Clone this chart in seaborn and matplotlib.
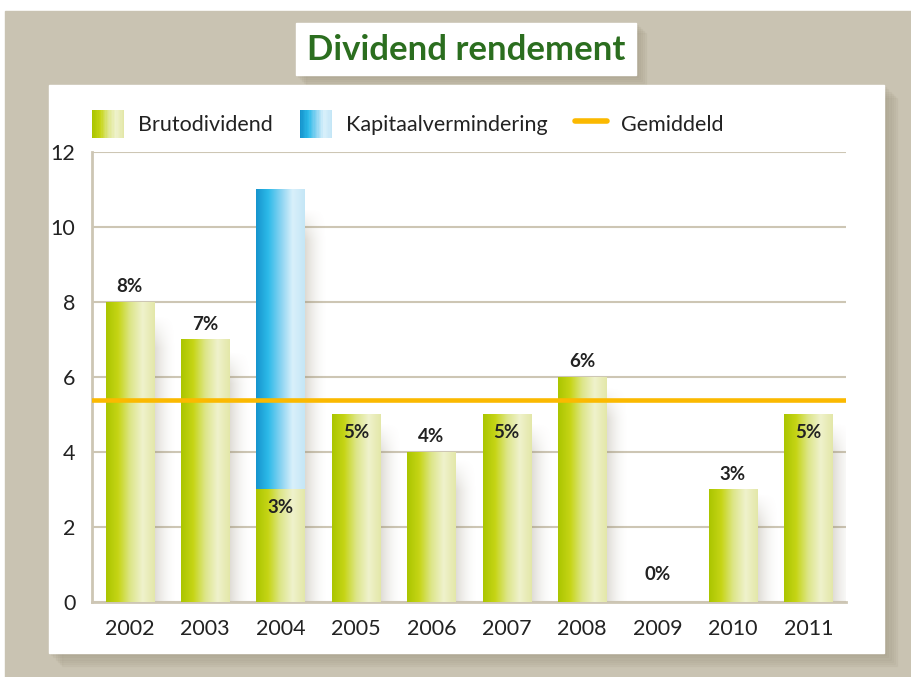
import numpy as np
import matplotlib
matplotlib.use("Agg")
import matplotlib.pyplot as plt
import seaborn as sns
from matplotlib.colors import LinearSegmentedColormap
from matplotlib.patches import Rectangle, Patch
from matplotlib.lines import Line2D
from matplotlib.legend_handler import HandlerPatch

# Gegevens
years = ['2002', '2003', '2004', '2005', '2006', '2007', '2008', '2009', '2010', '2011']
bruto = [8, 7, 3, 5, 4, 5, 6, 0, 3, 5]
kapitaal = [0, 0, 8, 0, 0, 0, 0, 0, 0, 0]
pct_labels = ['8%', '7%', '3%', '5%', '4%', '5%', '6%', '0%', '3%', '5%']
label_pos = ['above', 'above', 'inside', 'inside', 'above', 'inside', 'above', 'raised', 'above', 'inside']
gemiddeld = 5.4

totals = [b + k for b, k in zip(bruto, kapitaal)]

# Stijl
sns.set_style("white")
plt.rcParams['font.family'] = ['Lato', 'DejaVu Sans']

green_cmap = LinearSegmentedColormap.from_list(
    'groen', ['#aac500', '#c6d516', '#dde68a', '#eff2cc', '#e3e7a8'])
blue_cmap = LinearSegmentedColormap.from_list(
    'blauw', ['#1694cd', '#2dbae9', '#86d2f1', '#d9f0fb', '#c4e6f6'])
grid_col = '#cdc6b4'
orange = '#fbb900'
text_col = '#222222'

fig = plt.figure(figsize=(9.11, 6.77), dpi=100)
fig.patch.set_facecolor('white')

# Achtergrond, paneel en schaduwen
fig.add_artist(Rectangle((5 / 911, 0), 1, 1 - 11 / 677, transform=fig.transFigure,
                         color='#c9c3b2', zorder=-10))
for k in range(6):
    d = (k + 1) * 2.2
    fig.add_artist(Rectangle(((49 + d) / 911, 1 - (653 + d) / 677), 835 / 911, 568 / 677,
                             transform=fig.transFigure, color='#8f866e', alpha=0.07, zorder=-9))
fig.add_artist(Rectangle((49 / 911, 1 - 653 / 677), 835 / 911, 568 / 677,
                         transform=fig.transFigure, color='white', zorder=-8))

for k in range(5):
    d = (k + 1) * 2
    fig.add_artist(Rectangle(((296 + d) / 911, 1 - (75 + d) / 677), 340 / 911, 52 / 677,
                             transform=fig.transFigure, color='#8f866e', alpha=0.08, zorder=-9))
fig.add_artist(Rectangle((296 / 911, 1 - 75 / 677), 340 / 911, 52 / 677,
                         transform=fig.transFigure, color='white', zorder=-8))
fig.text(466 / 911, 1 - 50 / 677, 'Dividend rendement', ha='center', va='center',
         fontsize=25, fontweight='bold', color='#2b6e1f')

ax = fig.add_axes([92 / 911, 1 - 602 / 677, 754 / 911, 450 / 677])
ax.set_facecolor('white')

sns.barplot(x=years, y=totals, color=blue_cmap(0.4), width=0.64, saturation=1, ax=ax, zorder=3)
sns.barplot(x=years, y=bruto, color=green_cmap(0.4), width=0.64, saturation=1, ax=ax, zorder=4)

# Verloop op de staven + zachte schaduw rechts
grad = np.linspace(0, 1, 256).reshape(1, -1)
hx = np.linspace(0, 1, 64)
vy = np.linspace(0, 1, 64).reshape(-1, 1)
n = len(years)
for idx, p in enumerate(ax.patches):
    x0, y0, w, h = p.get_x(), p.get_y(), p.get_width(), p.get_height()
    p.set_edgecolor('none')
    p.set_linewidth(0)
    if h <= 0:
        continue
    cmap = blue_cmap if idx < n else green_cmap
    z = 3 if idx < n else 4
    ax.imshow(grad, cmap=cmap, extent=(x0, x0 + w, y0, y0 + h), aspect='auto',
              zorder=z + 0.5, interpolation='bilinear')
    if idx < n:
        # zachte schaduw: vervaagt naar rechts en naar de bovenkant
        top_fade = np.clip(vy * h / 0.9, 0, 1)  # rij 0 = bovenkant
        shade = np.zeros((64, 64, 4))
        shade[..., :3] = (0.52, 0.48, 0.38)
        shade[..., 3] = 0.28 * (1 - hx) ** 1.8 * top_fade
        ax.imshow(shade, extent=(x0 + w, x0 + w + 0.3, y0, y0 + h * 0.96), aspect='auto',
                  zorder=2, interpolation='bilinear')

ax.axhline(gemiddeld, color=orange, lw=3.3, zorder=6)

# Labels
offsets = {'above': (5, 'bottom'), 'inside': (-7, 'top'), 'raised': (14, 'bottom')}
for i, (v, t, pos) in enumerate(zip(bruto, pct_labels, label_pos)):
    off, va = offsets[pos]
    ax.annotate(t, (i, v), xytext=(0, off), textcoords='offset points', ha='center', va=va,
                fontsize=13.5, fontweight='bold', color=text_col, zorder=7)

# Assen
ax.set_xlim(-0.5, n - 0.5)
ax.set_ylim(0, 12)
ax.set_yticks(range(0, 13, 2))
ax.set_xticks(range(n))
ax.set_xticklabels(years)
ax.set_xticks(np.arange(-0.5, n, 1), minor=True)
ax.tick_params(axis='x', which='major', length=0, pad=12, labelsize=15.5, labelcolor=text_col)
ax.tick_params(axis='x', which='minor', direction='in', length=8, width=1.2, color=grid_col)
ax.tick_params(axis='y', length=0, pad=12, labelsize=15.5, labelcolor=text_col)
ax.yaxis.grid(True, color=grid_col, lw=1.5)
ax.set_axisbelow(True)
ax.set_xlabel('')
ax.set_ylabel('')
for s in ['top', 'right']:
    ax.spines[s].set_visible(False)
for s in ['left', 'bottom']:
    ax.spines[s].set_color(grid_col)
    ax.spines[s].set_linewidth(2)


# Legenda met verloop
class GradientHandler(HandlerPatch):
    def __init__(self, cmap):
        super().__init__()
        self.cmap = cmap

    def create_artists(self, legend, orig_handle, xdescent, ydescent, width, height, fontsize, trans):
        steps = 24
        arts = []
        for k in range(steps):
            arts.append(Rectangle((-xdescent + k * width / steps, -ydescent), width / steps * 1.08, height,
                                  facecolor=self.cmap(k / (steps - 1)), edgecolor='none', transform=trans))
        return arts


h_bruto = Patch(label='Brutodividend')
h_kap = Patch(label='Kapitaalvermindering')
h_gem = Line2D([], [], color=orange, lw=4, label='Gemiddeld')
fig.legend(handles=[h_bruto, h_kap, h_gem],
           handler_map={h_bruto: GradientHandler(green_cmap), h_kap: GradientHandler(blue_cmap)},
           loc='center left', bbox_to_anchor=(92 / 911, 1 - 124 / 677), ncol=3, frameon=False,
           borderpad=0, borderaxespad=0,
           fontsize=15.5, handlelength=1.5, handleheight=1.6, handletextpad=0.65, columnspacing=1.25,
           labelcolor=text_col)

plt.savefig('out.png', dpi=100, facecolor=fig.get_facecolor())
plt.close()
